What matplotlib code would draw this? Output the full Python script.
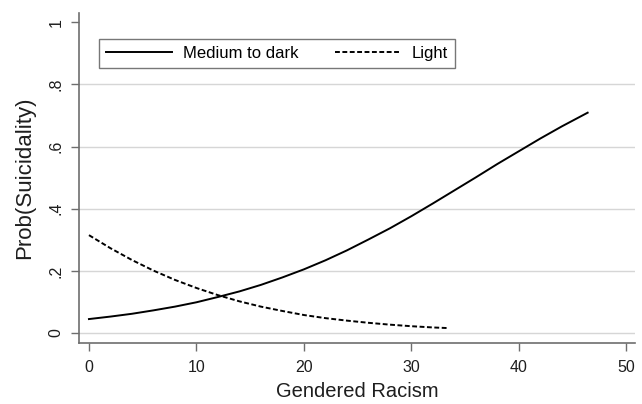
import matplotlib

matplotlib.use("Agg")
import matplotlib.pyplot as plt

# predicted probabilities
x_dark = [0, 2, 4, 6, 8, 10, 12, 14, 16, 18, 20, 22, 24, 26, 28, 30, 32, 34, 36, 38, 40, 42, 44, 46.4]
p_dark = [0.045, 0.053, 0.062, 0.073, 0.085, 0.099, 0.116, 0.134, 0.155, 0.179, 0.205, 0.234,
          0.266, 0.301, 0.337, 0.376, 0.417, 0.459, 0.501, 0.544, 0.585, 0.626, 0.665, 0.709]
x_light = [0, 2, 4, 6, 8, 10, 12, 14, 16, 18, 20, 22, 24, 26, 28, 30, 32, 33.4]
p_light = [0.315, 0.273, 0.235, 0.201, 0.171, 0.145, 0.122, 0.102, 0.085, 0.071, 0.058, 0.048,
           0.040, 0.033, 0.027, 0.022, 0.018, 0.016]

x_ticks = [0, 10, 20, 30, 40, 50]
y_ticks = [0, 0.2, 0.4, 0.6, 0.8, 1.0]
y_tick_labels = ["0", ".2", ".4", ".6", ".8", "1"]

plt.rcParams["font.family"] = ["Liberation Sans", "DejaVu Sans"]

fig = plt.figure(figsize=(6.42, 4.04), dpi=100)
ax = fig.add_axes([0.123, 0.151, 0.866, 0.817])

ax.plot(x_dark, p_dark, color="black", lw=1.4, label="Medium to dark")
ax.plot(x_light, p_light, color="black", lw=1.4, ls=(0, (2.5, 1.3)), label="Light")

ax.set_xlim(-0.93, 50.8)
ax.set_ylim(-0.032, 1.03)
ax.set_xticks(x_ticks)
ax.set_yticks(y_ticks)
ax.set_yticklabels(y_tick_labels, rotation=90, va="center")

ax.yaxis.grid(True, color="#d6d6d6", lw=1.0)
ax.yaxis.get_gridlines()[-1].set_visible(False)
ax.set_axisbelow(True)

for side in ("top", "right"):
    ax.spines[side].set_visible(False)
for side in ("left", "bottom"):
    ax.spines[side].set_color("#6e6e6e")
    ax.spines[side].set_linewidth(1.2)
ax.tick_params(colors="#6e6e6e", length=6, width=1.0, labelcolor="#1e1e1e", labelsize=11.5)
ax.tick_params(axis="x", pad=6)
ax.tick_params(axis="y", pad=5)

ax.set_xlabel("Gendered Racism", fontsize=14.5, color="#1e1e1e")
ax.set_ylabel("Prob(Suicidality)", fontsize=16, color="#1e1e1e")
ax.xaxis.set_label_coords(0.5, -0.118)
ax.yaxis.set_label_coords(-0.079, 0.5)

leg = ax.legend(loc="upper left", bbox_to_anchor=(0.036, 0.921), borderaxespad=0, ncol=2,
                fontsize=12, frameon=True, fancybox=False, handlelength=3.95,
                columnspacing=2.2, borderpad=0.42, handletextpad=0.66)
leg.get_frame().set_edgecolor("#555555")
leg.get_frame().set_linewidth(1.0)

fig.savefig("out.png", dpi=100)
